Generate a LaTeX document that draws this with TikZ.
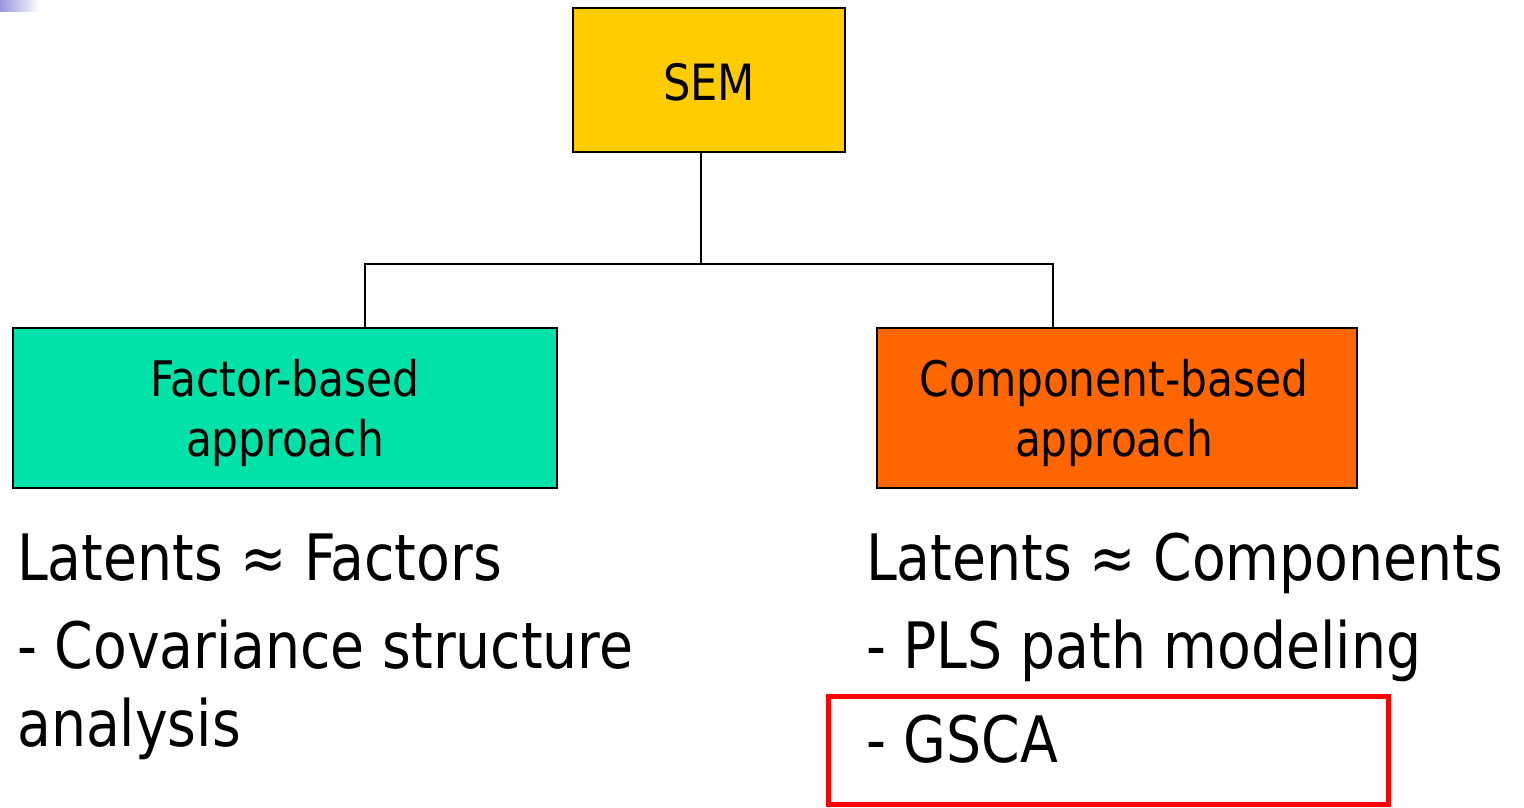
\documentclass[tikz,border=0pt]{standalone}
\usepackage{fontspec}
\setmainfont[FakeStretch=0.96]{DejaVu Sans Condensed}
\definecolor{semyellow}{RGB}{255,204,0}
\definecolor{factorgreen}{RGB}{0,226,168}
\definecolor{comporange}{RGB}{255,102,0}
\definecolor{fadeblue}{RGB}{150,150,220}
\begin{document}
\begin{tikzpicture}[x=1pt,y=-1pt,
  box/.style={draw=black,line width=2pt,inner sep=0pt},
  boxtext/.style={inner sep=0pt,align=center,font=\fontsize{49}{60}\selectfont},
  conn/.style={draw=black,line width=2pt},
  bigtext/.style={anchor=base west,inner sep=0pt,font=\fontsize{64}{77}\selectfont}]
\useasboundingbox (0,0) rectangle (1524,808);
\shade[left color=fadeblue,right color=white] (0,0) rectangle (40,12);
% boxes
\node[box,fill=semyellow,minimum width=272pt,minimum height=144pt] (sem) at (709,80) {};
\node[inner sep=0pt,font=\fontsize{50}{60}\selectfont] (semtxt) at ([yshift=-2pt]sem.center) {SEM};
\node[box,fill=factorgreen,minimum width=544pt,minimum height=160pt] (fac) at (285,408) {};
\node[boxtext] (factxt) at ([yshift=-5pt]fac.center) {Factor-based\\approach};
\node[box,fill=comporange,minimum width=480pt,minimum height=160pt] (comp) at (1117,408) {};
\node[boxtext] (comptxt) at ([xshift=-3pt,yshift=-5pt]comp.center) {Component-based\\approach};
% connectors
\coordinate (hub) at (701,264);
\coordinate (hl) at (365,264);
\coordinate (hr) at (1053,264);
\draw[conn] (sem.south -| hub) -- (hub);
\draw[conn] (fac.north -| hl) -- (hl) -- (hr) -- (comp.north -| hr);
% texts
\node[bigtext] (lf) at (17,580) {Latents ≈ Factors};
\node[bigtext] (cov) at (17,668) {- Covariance structure};
\node[bigtext] (ana) at (17,746) {analysis};
\node[bigtext] (lc) at (866,580) {Latents ≈ Components};
\node[bigtext] (pls) at (866,668) {- PLS path modeling};
\node[bigtext] (gsca) at (866,762) {- GSCA};
\node[draw=red,line width=5pt,minimum width=560pt,minimum height=108pt,inner sep=0pt] (hl2) at (1108.5,750) {};
\end{tikzpicture}
\end{document}
